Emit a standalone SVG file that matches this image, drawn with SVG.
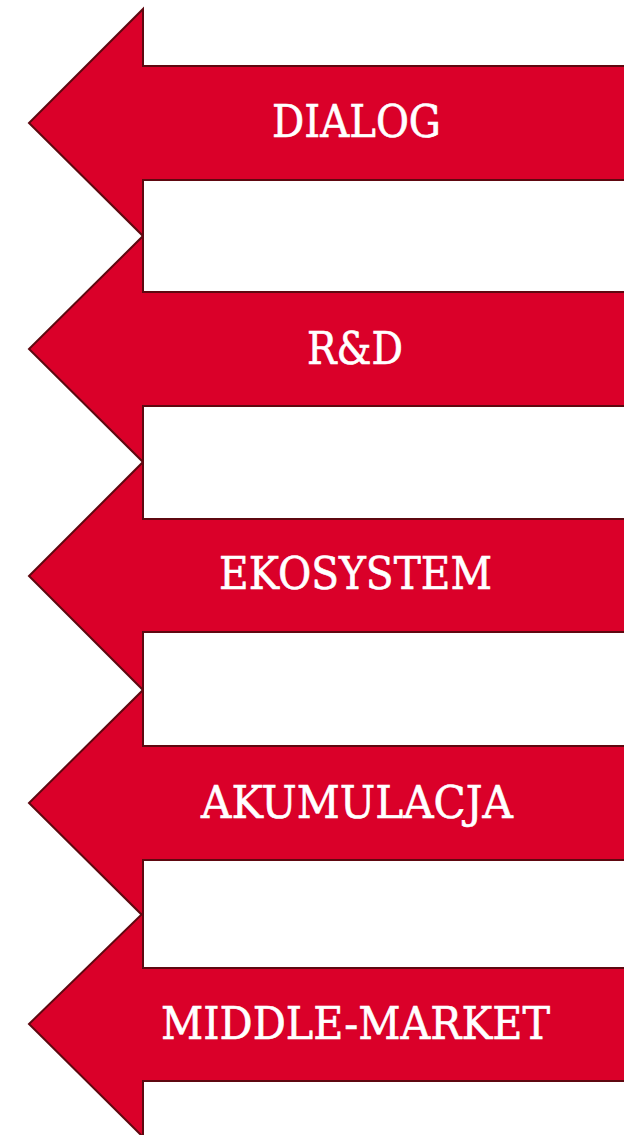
<svg xmlns="http://www.w3.org/2000/svg" width="624" height="1135" viewBox="0 0 624 1135">
<style>
.arrow{fill:#da0029;stroke:#5e0810;stroke-width:2;stroke-linejoin:miter}
.label{font-family:"DejaVu Serif","Liberation Serif",serif;font-size:44px;fill:#ffffff;stroke:#ffffff;stroke-width:0.6;text-anchor:middle}
</style>
<rect width="624" height="1135" fill="#ffffff"/>
<g id="arrow-dialog">
<path class="arrow" d="M630,66 L143,66 L143,9 L29,123 L143,236 L143,180 L630,180 Z"/>
<text class="label" x="356.5" y="137" textLength="169" lengthAdjust="spacingAndGlyphs">DIALOG</text>
</g>
<g id="arrow-rd">
<path class="arrow" d="M630,292 L143,292 L143,236 L29,349 L143,462 L143,406 L630,406 Z"/>
<text class="label" x="355" y="364" textLength="96" lengthAdjust="spacingAndGlyphs">R&amp;D</text>
</g>
<g id="arrow-ekosystem">
<path class="arrow" d="M630,519 L143,519 L143,462 L29,576 L143,690 L143,632 L630,632 Z"/>
<text class="label" x="355.5" y="589" textLength="273" lengthAdjust="spacingAndGlyphs">EKOSYSTEM</text>
</g>
<g id="arrow-akumulacja">
<path class="arrow" d="M630,746 L143,746 L143,690 L29,803 L143,916 L143,860 L630,860 Z"/>
<text class="label" x="357" y="818" textLength="312" lengthAdjust="spacingAndGlyphs">AKUMULACJA</text>
</g>
<g id="arrow-middle-market">
<path class="arrow" d="M630,968 L143,968 L143,913 L29,1024 L143,1137 L143,1081 L630,1081 Z"/>
<text class="label" x="355.5" y="1039" textLength="389" lengthAdjust="spacingAndGlyphs">MIDDLE-MARKET</text>
</g>
</svg>
